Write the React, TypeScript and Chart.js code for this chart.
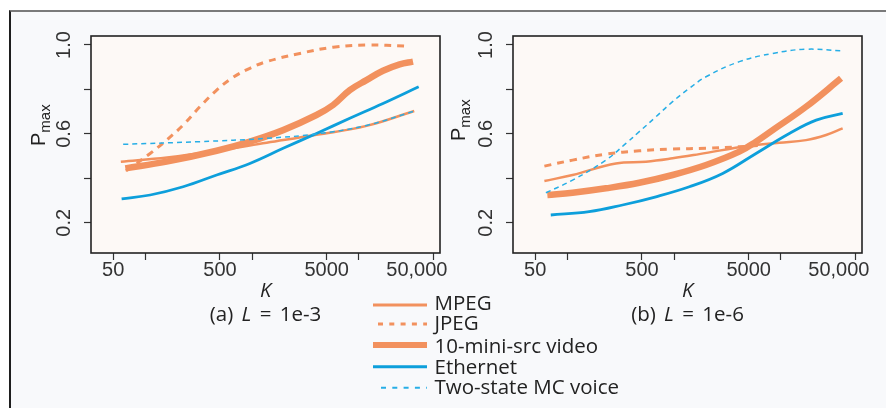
import React, { useEffect, useRef } from "react";
import { Chart, registerables } from "chart.js";

Chart.register(...registerables);

// ---------- data ----------
const SERIES_NAMES = ["MPEG", "JPEG", "10-mini-src video", "Ethernet", "Two-state MC voice"];

const X_TICKS = [50, 100, 500, 1000, 5000, 10000, 50000];
const X_TICK_LABELS = ["50", "", "500", "", "5000", "", "50,000      "];
const Y_TICKS = [0.2, 0.4, 0.6, 0.8, 1.0];
const Y_TICK_LABELS = ["0.2", "", "0.6", "", "1.0"];

// Panel (a): L = 1e-3
const A_MPEG_K = [59, 160, 470, 1370, 4000, 11800, 33000];
const A_MPEG_P = [0.475, 0.494, 0.524, 0.56, 0.596, 0.636, 0.703];
const A_JPEG_K = [66, 111, 158, 226, 324, 466, 665, 953, 1365, 2800, 5740, 11800, 27900];
const A_JPEG_P = [0.434, 0.512, 0.572, 0.64, 0.722, 0.797, 0.855, 0.895, 0.925, 0.962, 0.99, 1.0, 0.995];
const A_VIDEO_K = [65, 158, 466, 953, 1954, 4009, 5741, 8222, 11776, 16827, 24099, 32137];
const A_VIDEO_P = [0.445, 0.475, 0.524, 0.565, 0.617, 0.685, 0.73, 0.797, 0.842, 0.884, 0.913, 0.925];
const A_ETH_K = [60, 111, 226, 466, 953, 1954, 4009, 8222, 16827, 36300];
const A_ETH_P = [0.308, 0.325, 0.362, 0.415, 0.467, 0.535, 0.602, 0.67, 0.737, 0.812];
const A_VOICE_K = [62, 324, 1365, 4009, 11776, 33300];
const A_VOICE_P = [0.553, 0.565, 0.58, 0.6, 0.638, 0.703];

// Panel (b): L = 1e-6
const B_MPEG_K = [61, 112, 285, 545, 968, 1720, 5070, 9680, 17200, 26500, 37900];
const B_MPEG_P = [0.388, 0.415, 0.467, 0.475, 0.49, 0.509, 0.547, 0.56, 0.572, 0.595, 0.625];
const B_JPEG_K = [61, 112, 230, 472, 968, 1990, 4080, 6280];
const B_JPEG_P = [0.455, 0.482, 0.509, 0.524, 0.532, 0.535, 0.542, 0.548];
const B_VIDEO_K = [65, 112, 230, 472, 968, 1990, 4080, 5850, 8380, 17200, 36600];
const B_VIDEO_P = [0.325, 0.335, 0.355, 0.38, 0.415, 0.46, 0.52, 0.565, 0.617, 0.722, 0.85];
const B_ETH_K = [70, 160, 329, 676, 1390, 2850, 5850, 12000, 21400, 37900];
const B_ETH_P = [0.235, 0.25, 0.28, 0.317, 0.362, 0.422, 0.512, 0.602, 0.662, 0.692];
const B_VOICE_K = [63, 112, 230, 354, 472, 676, 968, 1390, 1990, 4080, 8380, 17200, 37900];
const B_VOICE_P = [0.335, 0.392, 0.482, 0.557, 0.61, 0.677, 0.745, 0.805, 0.857, 0.925, 0.962, 0.981, 0.973];

// ---------- styles ----------
const ORANGE = "#F2915E";
const BLUE = "#0D9FDB";
const LIGHT_BLUE = "#27AEE6";
const PLOT_BG = "#FDF9F6";
const FRAME_BG = "#F8F9FB";
const INK = "#222222";

const STYLES = [
  { color: ORANGE, width: 2.5, dash: [] as number[] },
  { color: ORANGE, width: 3, dash: [7, 6] },
  { color: ORANGE, width: 6.5, dash: [] as number[] },
  { color: BLUE, width: 2.8, dash: [] as number[] },
  { color: LIGHT_BLUE, width: 1.5, dash: [5, 4] },
];

const pts = (k: number[], p: number[]) => k.map((x, i) => ({ x, y: p[i] }));

const boxPlugin = {
  id: "plotBox",
  beforeDatasetsDraw(chart: any) {
    const { ctx, chartArea } = chart;
    const { left, top, right, bottom } = chartArea;
    ctx.save();
    ctx.fillStyle = PLOT_BG;
    ctx.fillRect(left, top, right - left, bottom - top);
    ctx.restore();
  },
  afterDatasetsDraw(chart: any) {
    const { ctx, chartArea } = chart;
    const { left, top, right, bottom } = chartArea;
    ctx.save();
    ctx.strokeStyle = INK;
    ctx.lineWidth = 1.6;
    ctx.strokeRect(left, top, right - left, bottom - top);
    ctx.restore();
  },
};

function makeConfig(series: { k: number[]; p: number[] }[], padRight: number): any {
  return {
    type: "line",
    data: {
      datasets: series.map((s, i) => ({
        label: SERIES_NAMES[i],
        data: pts(s.k, s.p),
        borderColor: STYLES[i].color,
        borderWidth: STYLES[i].width,
        borderDash: STYLES[i].dash,
        borderCapStyle: "butt",
        borderJoinStyle: "round",
        pointRadius: 0,
        fill: false,
        tension: 0.4,
        order: 5 - i,
      })),
    },
    options: {
      animation: false,
      responsive: false,
      maintainAspectRatio: false,
      devicePixelRatio: 1,
      events: [],
      layout: { padding: { left: 0, top: 36, right: padRight, bottom: 0 } },
      plugins: { legend: { display: false }, tooltip: { enabled: false } },
      scales: {
        x: {
          type: "logarithmic",
          min: 31,
          max: 57500,
          bounds: "data",
          afterBuildTicks: (s: any) => {
            s.ticks = X_TICKS.map((v) => ({ value: v }));
          },
          afterFit: (s: any) => {
            s.height = 48;
            s.paddingLeft = 0;
            s.paddingRight = 0;
          },
          grid: { drawOnChartArea: false, drawTicks: true, tickLength: 7, color: "#333", tickWidth: 1.2 },
          border: { display: false },
          ticks: {
            autoSkip: false,
            minRotation: 0,
            maxRotation: 0,
            padding: 0,
            color: "#333",
            font: { family: "Liberation Sans", size: 20, lineHeight: 1 },
            callback: (v: number) => {
              const i = X_TICKS.findIndex((t) => Math.abs(t - v) < 1e-6 * t);
              return i >= 0 ? X_TICK_LABELS[i] : "";
            },
          },
          title: {
            display: true,
            text: "K",
            color: INK,
            padding: 0,
            font: { family: "Open Sans", size: 20, style: "italic", lineHeight: 1 },
          },
        },
        y: {
          type: "linear",
          min: 0.064,
          max: 1.0405,
          bounds: "data",
          afterBuildTicks: (s: any) => {
            s.ticks = Y_TICKS.map((v) => ({ value: v }));
          },
          afterFit: (s: any) => {
            s.width = 91;
            s.paddingTop = 0;
            s.paddingBottom = 0;
          },
          grid: { drawOnChartArea: false, drawTicks: true, tickLength: 7, color: "#333", tickWidth: 1.2 },
          border: { display: false },
          ticks: {
            autoSkip: false,
            minRotation: 90,
            maxRotation: 90,
            crossAlign: "center",
            padding: 6,
            color: "#333",
            font: { family: "Liberation Sans", size: 20, lineHeight: 1 },
            callback: (v: number) => {
              const i = Y_TICKS.findIndex((t) => Math.abs(t - v) < 1e-9);
              return i >= 0 ? Y_TICK_LABELS[i] : "";
            },
          },
        },
      },
    },
    plugins: [boxPlugin],
  };
}

function Panel(props: { series: { k: number[]; p: number[] }[]; left: number; width: number; padRight: number }) {
  const ref = useRef<HTMLCanvasElement | null>(null);
  useEffect(() => {
    if (!ref.current) return;
    const chart = new Chart(ref.current, makeConfig(props.series, props.padRight));
    return () => chart.destroy();
  }, []);
  return (
    <canvas
      ref={ref}
      width={props.width}
      height={301}
      style={{ position: "absolute", left: props.left, top: 0, width: props.width, height: 301 }}
    />
  );
}

const SERIES_A = [
  { k: A_MPEG_K, p: A_MPEG_P },
  { k: A_JPEG_K, p: A_JPEG_P },
  { k: A_VIDEO_K, p: A_VIDEO_P },
  { k: A_ETH_K, p: A_ETH_P },
  { k: A_VOICE_K, p: A_VOICE_P },
];
const SERIES_B = [
  { k: B_MPEG_K, p: B_MPEG_P },
  { k: B_JPEG_K, p: B_JPEG_P },
  { k: B_VIDEO_K, p: B_VIDEO_P },
  { k: B_ETH_K, p: B_ETH_P },
  { k: B_VOICE_K, p: B_VOICE_P },
];

function YLabel(props: { x: number; y: number }) {
  return (
    <div
      style={{
        position: "absolute",
        left: props.x,
        top: props.y,
        transformOrigin: "0 0",
        transform: "rotate(-90deg)",
        whiteSpace: "nowrap",
        fontFamily: "'Liberation Sans', Arial, sans-serif",
        fontSize: 20,
        lineHeight: "20px",
        color: INK,
      }}
    >
      P<span style={{ fontSize: 15, verticalAlign: "-5px", lineHeight: 0 }}>max</span>
    </div>
  );
}

const LEGEND_ROWS = [
  { lineY: 305, textTop: 292.4, x1: 373, dashArr: "" },
  { lineY: 324, textTop: 312.1, x1: 378, dashArr: "5 6.3" },
  { lineY: 345, textTop: 335.4, x1: 373, dashArr: "" },
  { lineY: 366.7, textTop: 356.1, x1: 373, dashArr: "" },
  { lineY: 387.7, textTop: 375.8, x1: 381, dashArr: "5 6.3" },
];
const LEGEND_WIDTHS = [3, 3, 6, 3, 2];

const textFont = "'Open Sans', 'Noto Sans', sans-serif";

export default function App() {
  return (
    <div
      style={{
        position: "absolute",
        left: 0,
        top: 0,
        width: 886,
        height: 408,
        background: "#ffffff",
        overflow: "hidden",
      }}
    >
      <div
        style={{
          position: "absolute",
          left: 9,
          top: 10,
          right: 0,
          bottom: 0,
          background: FRAME_BG,
          borderTop: "2px solid #7a7a7a",
          borderLeft: "2px solid #1e1e1e",
        }}
      />
      <Panel series={SERIES_A} left={0} width={470} padRight={30} />
      <Panel series={SERIES_B} left={422} width={464} padRight={24} />
      <YLabel x={28} y={146} />
      <YLabel x={448} y={141} />
      {[
        { cx: 265.5, tag: "(a)", val: "1e-3" },
        { cx: 687.5, tag: "(b)", val: "1e-6" },
      ].map((c) => (
        <div
          key={c.tag}
          style={{
            position: "absolute",
            left: c.cx - 100,
            width: 200,
            top: 303.1,
            textAlign: "center",
            fontFamily: textFont,
            fontSize: 20.5,
            lineHeight: "20.5px",
            color: INK,
            wordSpacing: 3,
            whiteSpace: "nowrap",
          }}
        >
          {c.tag} <i>L</i> = {c.val}
        </div>
      ))}
      <svg width={886} height={408} style={{ position: "absolute", left: 0, top: 0 }}>
        {LEGEND_ROWS.map((r, i) => (
          <line
            key={i}
            x1={r.x1}
            x2={427}
            y1={r.lineY}
            y2={r.lineY}
            stroke={STYLES[i].color}
            strokeWidth={LEGEND_WIDTHS[i]}
            strokeDasharray={r.dashArr || undefined}
          />
        ))}
      </svg>
      {LEGEND_ROWS.map((r, i) => (
        <div
          key={SERIES_NAMES[i]}
          style={{
            position: "absolute",
            left: 434.5,
            top: r.textTop,
            fontFamily: textFont,
            fontSize: 20.5,
            lineHeight: "20.5px",
            color: INK,
            whiteSpace: "nowrap",
          }}
        >
          {SERIES_NAMES[i]}
        </div>
      ))}
    </div>
  );
}
